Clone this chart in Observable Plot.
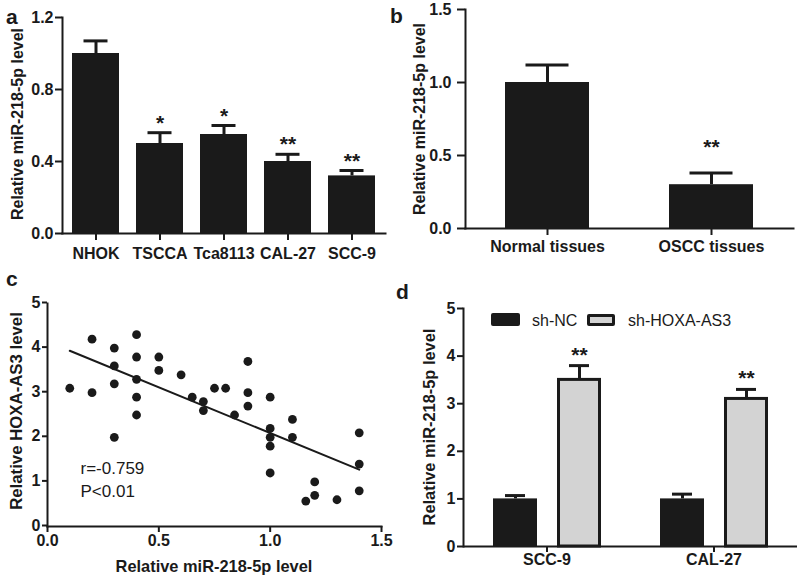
<!DOCTYPE html>
<html><head><meta charset="utf-8">
<script src="https://cdn.jsdelivr.net/npm/d3@7"></script>
<script src="https://cdn.jsdelivr.net/npm/@observablehq/plot@0.6"></script>
<style>
body{margin:0;background:#fff;}
#root{position:relative;width:800px;height:580px;font-family:"Liberation Sans",Arial,sans-serif;color:#1a1a1a;overflow:hidden;}
.panel{position:absolute;}
.tag{position:absolute;font-weight:bold;font-size:21px;line-height:21px;}
.ylab{position:absolute;font-weight:bold;white-space:nowrap;transform:translate(-50%,-50%) rotate(-90deg);line-height:1;}
.xlab{position:absolute;font-weight:bold;white-space:nowrap;transform:translate(-50%,-50%);line-height:1;}
.lg{position:absolute;font-size:16px;line-height:16px;white-space:nowrap;}
.sw{position:absolute;box-sizing:border-box;border-radius:2px;}
</style></head><body><div id="root"></div>
<script>
// Panel a
const cellLines = ["NHOK", "TSCCA", "Tca8113", "CAL-27", "SCC-9"];
const cellMean = [1.0, 0.50, 0.55, 0.40, 0.32];
const cellErr = [0.07, 0.06, 0.05, 0.04, 0.03];
const cellSig = ["", "*", "*", "**", "**"];
// Panel b
const tissues = ["Normal tissues", "OSCC tissues"];
const tissueMean = [1.0, 0.30];
const tissueErr = [0.12, 0.08];
const tissueSig = ["", "**"];
// Panel c
const corrX = [0.1, 0.2, 0.2, 0.3, 0.3, 0.3, 0.3, 0.4, 0.4, 0.4, 0.4, 0.4, 0.5, 0.5, 0.6, 0.65, 0.7, 0.7, 0.75, 0.8, 0.84, 0.9, 0.9, 0.9, 1.0, 1.0, 1.0, 1.0, 1.0, 1.1, 1.1, 1.16, 1.2, 1.2, 1.3, 1.4, 1.4, 1.4];
const corrY = [3.1, 4.2, 3.0, 4.0, 3.6, 3.2, 2.0, 4.3, 3.8, 3.3, 2.9, 2.5, 3.8, 3.5, 3.4, 2.9, 2.8, 2.6, 3.1, 3.1, 2.5, 3.7, 3.0, 2.7, 2.9, 2.2, 2.0, 1.8, 1.2, 2.4, 2.0, 0.57, 1.0, 0.7, 0.6, 2.1, 1.4, 0.8];
const corrStats = ["r=-0.759", "P<0.01"];
// Panel d
const groupsD = ["SCC-9", "CAL-27"];
const seriesD = ["sh-NC", "sh-HOXA-AS3"];
const meanNC = [1.0, 1.0];
const errNC = [0.07, 0.10];
const meanSH = [3.5, 3.1];
const errSH = [0.30, 0.20];
const sigSH = ["**", "**"];

const INK = "#1a1a1a";
const GRAY = "#d3d3d3";
const FONT = "'Liberation Sans', Arial, sans-serif";
const baseStyle = {fontFamily: FONT, fontSize: "16px", fontWeight: "bold", color: INK, background: "transparent", overflow: "visible"};
const root = document.getElementById("root");

function place(el, left, top) {
  const wrap = document.createElement("div");
  wrap.className = "panel";
  wrap.style.left = left + "px";
  wrap.style.top = top + "px";
  wrap.appendChild(el);
  root.appendChild(wrap);
}
function html(cls, text, css) {
  const d = document.createElement("div");
  d.className = cls;
  if (text != null) d.textContent = text;
  Object.assign(d.style, css);
  root.appendChild(d);
  return d;
}

// ---- Panel a ----
const dataA = cellLines.map((c, i) => ({c, v: cellMean[i], e: cellMean[i] + cellErr[i], s: cellSig[i]}));
const pa = Plot.plot({
  width: 400, height: 280, marginLeft: 62, marginRight: 15, marginTop: 17, marginBottom: 47,
  style: baseStyle,
  x: {domain: cellLines, paddingInner: 0.27, paddingOuter: 0.135, label: null},
  y: {domain: [0, 1.2], label: null},
  marks: [
    Plot.barY(dataA, {x: "c", y: "v", fill: INK}),
    Plot.ruleX(dataA, {x: "c", y1: "v", y2: "e", stroke: INK, strokeWidth: 3}),
    Plot.tickY(dataA, {x: "c", y: "e", stroke: INK, strokeWidth: 3, insetLeft: 11.5, insetRight: 11.5}),
    Plot.text(dataA, {x: "c", y: "e", text: "s", lineAnchor: "bottom", dy: -3, fontSize: 21, fontWeight: "bold", fill: INK}),
    Plot.axisY({ticks: [0, 0.4, 0.8, 1.2], tickFormat: d3.format(".1f"), tickSize: 7, tickPadding: 2, strokeWidth: 2, fontSize: 16, label: null}),
    Plot.axisX({tickSize: 7, tickPadding: 7, strokeWidth: 2, fontSize: 16, label: null}),
    Plot.frame({anchor: "left", stroke: INK, strokeWidth: 2}),
    Plot.frame({anchor: "bottom", stroke: INK, strokeWidth: 2})
  ]
});
place(pa, 0, 0);

// ---- Panel b ----
const dataB = tissues.map((c, i) => ({c, v: tissueMean[i], e: tissueMean[i] + tissueErr[i], s: tissueSig[i]}));
const pb = Plot.plot({
  width: 400, height: 280, marginLeft: 65, marginRight: 7, marginTop: 9, marginBottom: 52,
  style: baseStyle,
  x: {domain: tissues, paddingInner: 0.49, paddingOuter: 0.245, label: null},
  y: {domain: [0, 1.5], label: null},
  marks: [
    Plot.barY(dataB, {x: "c", y: "v", fill: INK}),
    Plot.ruleX(dataB, {x: "c", y1: "v", y2: "e", stroke: INK, strokeWidth: 3}),
    Plot.tickY(dataB, {x: "c", y: "e", stroke: INK, strokeWidth: 3, insetLeft: 20.5, insetRight: 20.5}),
    Plot.text(dataB, {x: "c", y: "e", text: "s", lineAnchor: "bottom", dy: -19, fontSize: 21, fontWeight: "bold", fill: INK}),
    Plot.axisY({ticks: [0, 0.5, 1.0, 1.5], tickFormat: d3.format(".1f"), tickSize: 8, tickPadding: 6, strokeWidth: 2, fontSize: 16, label: null}),
    Plot.axisX({tickSize: 7, tickPadding: 5, strokeWidth: 2, fontSize: 16, label: null}),
    Plot.frame({anchor: "left", stroke: INK, strokeWidth: 2}),
    Plot.frame({anchor: "bottom", stroke: INK, strokeWidth: 2})
  ]
});
place(pb, 400, 0);

// ---- Panel c ----
const dataC = corrX.map((x, i) => ({x, y: corrY[i]}));
const pc = Plot.plot({
  width: 400, height: 300, marginLeft: 47, marginRight: 19, marginTop: 23, marginBottom: 54,
  style: baseStyle,
  x: {domain: [0, 1.5], label: null},
  y: {domain: [0, 5], label: null},
  marks: [
    Plot.linearRegressionY(dataC, {x: "x", y: "y", ci: 0, stroke: INK, strokeWidth: 2}),
    Plot.dot(dataC, {x: "x", y: "y", r: 4.4, fill: INK, stroke: "none"}),
    Plot.text([corrStats.join("\n")], {frameAnchor: "bottom-left", dx: 33, dy: -30, lineAnchor: "bottom", textAnchor: "start", fontSize: 17, fontWeight: "normal", lineHeight: 1.3, fill: INK}),
    Plot.axisY({ticks: [0, 1, 2, 3, 4, 5], tickFormat: d3.format("d"), tickSize: 5, tickPadding: 2, strokeWidth: 2, fontSize: 16, dy: -1, label: null}),
    Plot.axisX({ticks: [0, 0.5, 1.0, 1.5], tickFormat: d3.format(".1f"), tickSize: 6, tickPadding: 2, strokeWidth: 2, fontSize: 16, label: null}),
    Plot.frame({anchor: "left", stroke: INK, strokeWidth: 2}),
    Plot.frame({anchor: "bottom", stroke: INK, strokeWidth: 2})
  ]
});
place(pc, 0, 280);

// ---- Panel d ----
const dataD = [];
groupsD.forEach((g, i) => {
  dataD.push({g, s: seriesD[0], v: meanNC[i], e: meanNC[i] + errNC[i], sig: ""});
  dataD.push({g, s: seriesD[1], v: meanSH[i], e: meanSH[i] + errSH[i], sig: sigSH[i]});
});
const isNC = (d) => d.s === seriesD[0];
const isSH = (d) => d.s === seriesD[1];
const pd = Plot.plot({
  width: 400, height: 300, marginLeft: 63, marginRight: 3, marginTop: 28, marginBottom: 34,
  style: baseStyle,
  fx: {domain: groupsD, padding: 0, label: null},
  x: {domain: seriesD, paddingInner: 0.32, paddingOuter: 0.46, axis: null, label: null},
  y: {domain: [0, 5], label: null},
  marks: [
    Plot.barY(dataD, {fx: "g", x: "s", y: "v", fill: INK, filter: isNC}),
    Plot.barY(dataD, {fx: "g", x: "s", y: "v", fill: GRAY, stroke: INK, strokeWidth: 3, filter: isSH, insetLeft: 1.5, insetRight: 1.5}),
    Plot.ruleX(dataD, {fx: "g", x: "s", y1: "v", y2: "e", stroke: INK, strokeWidth: 3}),
    Plot.tickY(dataD, {fx: "g", x: "s", y: "e", stroke: INK, strokeWidth: 3, insetLeft: 12, insetRight: 12}),
    Plot.text(dataD, {fx: "g", x: "s", y: "e", text: "sig", lineAnchor: "bottom", dy: -4, fontSize: 21, fontWeight: "bold", fill: INK}),
    Plot.ruleY([0], {stroke: INK, strokeWidth: 2}),
    Plot.axisY({ticks: [0, 1, 2, 3, 4, 5], tickFormat: d3.format("d"), tickSize: 6, tickPadding: 2, strokeWidth: 2, fontSize: 16, label: null}),
    Plot.axisFx({anchor: "bottom", tickSize: 6, tickPadding: 1, strokeWidth: 2, fontSize: 16, label: null}),
    Plot.frame({anchor: "left", facetAnchor: "left", stroke: INK, strokeWidth: 2})
  ]
});
place(pd, 400, 280);

// ---- HTML text: panel tags, axis titles, legend ----
html("tag", "a", {left: "6px", top: "6px"});
html("tag", "b", {left: "390px", top: "5px"});
html("tag", "c", {left: "6px", top: "268px"});
html("tag", "d", {left: "396px", top: "281px"});

html("ylab", "Relative miR-218-5p level", {left: "18px", top: "124px", fontSize: "16px"});
html("ylab", "Relative miR-218-5p level", {left: "420px", top: "119px", fontSize: "16px"});
html("ylab", "Relative HOXA-AS3 level", {left: "17px", top: "411px", fontSize: "16.8px"});
html("xlab", "Relative miR-218-5p level", {left: "214px", top: "566px", fontSize: "16.4px"});
html("ylab", "Relative miR-218-5p level", {left: "429px", top: "427px", fontSize: "16.4px"});

html("sw", null, {left: "491px", top: "313px", width: "29px", height: "13px", background: INK});
html("lg", seriesD[0], {left: "532px", top: "313px"});
html("sw", null, {left: "587px", top: "314px", width: "28px", height: "12px", background: GRAY, border: "3px solid " + INK});
html("lg", seriesD[1], {left: "628px", top: "313px"});
</script>
</body></html>
